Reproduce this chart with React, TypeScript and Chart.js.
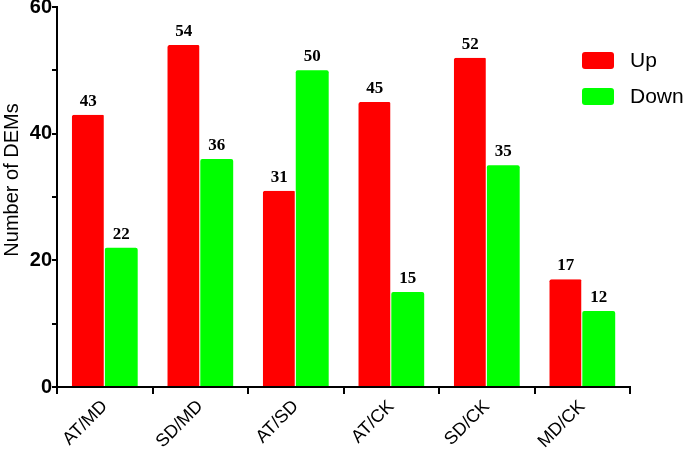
import React, { useEffect, useRef } from "react";
import { Chart, registerables } from "chart.js";

Chart.register(...registerables);

const categories = ["AT/MD", "SD/MD", "AT/SD", "AT/CK", "SD/CK", "MD/CK"];
const upValues = [43, 54, 31, 45, 52, 17];
const downValues = [22, 36, 50, 15, 35, 12];
const seriesNames = ["Up", "Down"];
const seriesColors = ["#ff0000", "#00ff00"];
const yTitle = "Number of DEMs";

const labelPlugin = {
  id: "valueLabels",
  afterDatasetsDraw(chart: any) {
    const ctx = chart.ctx;
    ctx.save();
    ctx.font = "bold 17px 'Liberation Serif', 'Times New Roman', serif";
    ctx.fillStyle = "#000";
    ctx.textAlign = "center";
    ctx.textBaseline = "alphabetic";
    chart.data.datasets.forEach((ds: any, i: number) => {
      const meta = chart.getDatasetMeta(i);
      meta.data.forEach((bar: any, j: number) => {
        ctx.fillText(String(ds.data[j]), bar.x, bar.y - 9);
      });
    });
    ctx.restore();
  },
};

const decorPlugin = {
  id: "decor",
  afterDraw(chart: any) {
    const ctx = chart.ctx;
    ctx.save();
    ctx.translate(12, 180);
    ctx.rotate(-Math.PI / 2);
    ctx.font = "20px 'Liberation Sans', Arial, sans-serif";
    ctx.fillStyle = "#000";
    ctx.textAlign = "center";
    ctx.textBaseline = "middle";
    ctx.fillText(yTitle, 0, 0);
    ctx.restore();

    ctx.save();
    const boxX = 582;
    const ys = [52, 88];
    seriesNames.forEach((name, i) => {
      ctx.fillStyle = seriesColors[i];
      ctx.beginPath();
      (ctx as any).roundRect(boxX, ys[i], 32, 17, 3);
      ctx.fill();
      ctx.fillStyle = "#000";
      ctx.font = "21px 'Liberation Sans', Arial, sans-serif";
      ctx.textAlign = "left";
      ctx.textBaseline = "middle";
      ctx.fillText(name, 630, ys[i] + 9);
    });
    ctx.restore();
  },
};

export default function App() {
  const ref = useRef<HTMLCanvasElement | null>(null);
  useEffect(() => {
    if (!ref.current) return;
    const chart = new Chart(ref.current, {
      type: "bar",
      data: {
        labels: categories,
        datasets: [
          {
            label: seriesNames[0],
            data: upValues,
            backgroundColor: seriesColors[0],
            borderColor: "#ffffff",
            borderWidth: { left: 0, right: 1, top: 0, bottom: 0 },
            borderRadius: { topLeft: 2, topRight: 2 },
            borderSkipped: "bottom",
          },
          {
            label: seriesNames[1],
            data: downValues,
            backgroundColor: seriesColors[1],
            borderColor: "#ffffff",
            borderWidth: { left: 0, right: 0, top: 0, bottom: 0 },
            borderRadius: { topLeft: 2, topRight: 2 },
            borderSkipped: "bottom",
          },
        ],
      },
      options: {
        animation: false,
        responsive: false,
        devicePixelRatio: 1,
        layout: { padding: { top: 7, right: 55, left: 0, bottom: 0 } },
        plugins: {
          legend: { display: false },
          tooltip: { enabled: false },
        },
        datasets: {
          bar: { categoryPercentage: 0.69, barPercentage: 1 },
        },
        scales: {
          x: {
            offset: true,
            grid: {
              display: true,
              drawOnChartArea: false,
              drawTicks: true,
              tickLength: 7,
              color: "#000",
              lineWidth: 2,
            },
            border: { display: true, color: "#000", width: 2 },
            ticks: {
              color: "#000",
              font: { family: "'Liberation Sans', Arial, sans-serif", size: 18 },
              maxRotation: 45,
              minRotation: 45,
              padding: 2,
            },
            afterFit(scale: any) {
              scale.height = 66;
              scale.paddingLeft = 0;
              scale.paddingRight = 0;
            },
          },
          y: {
            min: 0,
            max: 60,
            grid: {
              display: true,
              drawOnChartArea: false,
              drawTicks: true,
              tickLength: 5,
              color: "#000",
              lineWidth: 2,
            },
            border: { display: true, color: "#000", width: 2 },
            ticks: {
              stepSize: 10,
              color: "#000",
              padding: 0,
              font: { family: "'Liberation Sans', Arial, sans-serif", size: 20, weight: "bold" },
              callback: (v: any) => (Number(v) % 20 === 0 ? String(v) : ""),
            },
            afterFit(scale: any) {
              scale.width = 57;
              scale.paddingTop = 0;
              scale.paddingBottom = 0;
            },
          },
        },
      },
      plugins: [labelPlugin, decorPlugin],
    });
    return () => chart.destroy();
  }, []);
  return (
    <div style={{ position: "fixed", left: 0, top: 0, width: 685, height: 453, background: "#fff" }}>
      <canvas ref={ref} width={685} height={453} style={{ width: 685, height: 453 }} />
    </div>
  );
}
